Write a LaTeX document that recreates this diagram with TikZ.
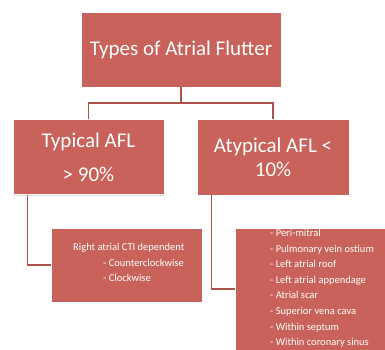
\documentclass[tikz,border=0pt]{standalone}
\usepackage{fontspec}
\setmainfont{Carlito}
\usetikzlibrary{shadows}
\definecolor{boxred}{HTML}{C8625B}
\definecolor{linered}{HTML}{B0504B}
\tikzset{
  box/.style={rectangle, fill=boxred, draw=white, line width=0.6pt, text=white, align=center, inner sep=0pt,
    drop shadow={opacity=0.25, shadow xshift=1.2pt, shadow yshift=-1.2pt}},
  conn/.style={draw=linered, line width=1.3pt},
  listtext/.style={text=white, align=left, anchor=north west, inner sep=0pt, font=\fontsize{10.5}{15.6}\selectfont}
}
\begin{document}
\begin{tikzpicture}[x=1pt,y=-1pt]
\useasboundingbox (0,0) rectangle (385,350);
\begin{scope}
\clip (0,0) rectangle (385,350);
\coordinate (mid) at (181,103);
\coordinate (bigin) at (235,289);
\node[box, minimum width=200pt, minimum height=75pt, font=\fontsize{21}{25}\selectfont] (top) at (181,49.5) {Types of Atrial Flutter};
\node[box, minimum width=151pt, minimum height=75pt, font=\fontsize{21}{32}\selectfont] (typ) at (88.5,157) {Typical AFL\\[2pt] > 90\%};
\node[box, minimum width=152pt, minimum height=76pt, font=\fontsize{21}{24}\selectfont] (atyp) at (273,157) {Atypical AFL <\\ 10\%};
\node[box, minimum width=151pt, minimum height=74pt] (small) at (126.5,265) {};
\node[box, minimum width=160pt, minimum height=135pt, anchor=north west] (big) at (235,228) {};
\draw[conn] (top.south) -- (mid);
\draw[conn] (typ.north) |- (mid) -| (atyp.north);
\draw[conn] ([xshift=15pt]typ.south west) |- (small.west);
\draw[conn] ([xshift=15pt]atyp.south west) |- (bigin);
\node[listtext] (smalltext) at (73,243) {Right atrial CTI dependent\\
\hspace*{30pt}- Counterclockwise\\
\hspace*{30pt}- Clockwise};
\node[listtext] (bigtext) at (270,229) {- Peri-mitral\\
- Pulmonary vein ostium\\
- Left atrial roof\\
- Left atrial appendage\\
- Atrial scar\\
- Superior vena cava\\
- Within septum\\
- Within coronary sinus};
\end{scope}
\end{tikzpicture}
\end{document}
